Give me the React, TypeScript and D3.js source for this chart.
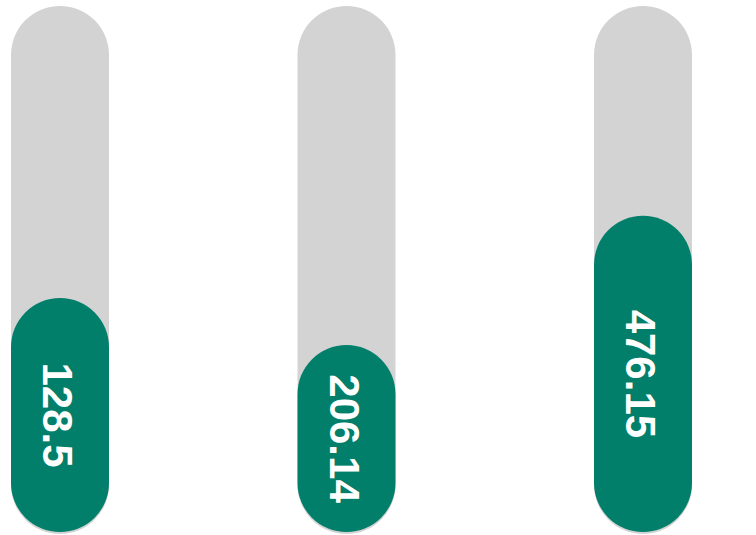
import React from "react";
import * as d3 from "d3";

const categories = ["A", "B", "C"];
const values = [128.5, 206.14, 476.15];
const targets = [289, 580, 792];

const W = 756;
const H = 535;
const barW = 98;
const top = 6;
const bottom = 532;

export default function App() {
  const x = d3.scaleOrdinal<string, number>().domain(categories).range([60, 346.5, 643]);
  const r = barW / 2;
  return (
    <svg
      width={W}
      height={H}
      style={{ position: "absolute", left: 0, top: 0 }}
      viewBox={`0 0 ${W} ${H}`}
    >
      {categories.map((c, i) => {
        const y = d3.scaleLinear().domain([0, targets[i]]).range([bottom, top]);
        const cx = x(c) as number;
        const yTop = y(values[i]);
        const cy = (yTop + bottom) / 2;
        return (
          <g key={c}>
            <rect
              x={cx - r}
              y={top}
              width={barW}
              height={bottom + 2 - top}
              rx={r}
              ry={r}
              fill="#d3d3d3"
            />
            <rect
              x={cx - r}
              y={yTop}
              width={barW}
              height={bottom - yTop}
              rx={r}
              ry={r}
              fill="#017f6a"
            />
            <text
              transform={`translate(${cx - 2},${cy}) rotate(90)`}
              textAnchor="middle"
              dy="0.35em"
              fill="#ffffff"
              fontFamily="'Liberation Sans', Arial, sans-serif"
              fontWeight="bold"
              fontSize={42}
            >
              {values[i]}
            </text>
          </g>
        );
      })}
    </svg>
  );
}
